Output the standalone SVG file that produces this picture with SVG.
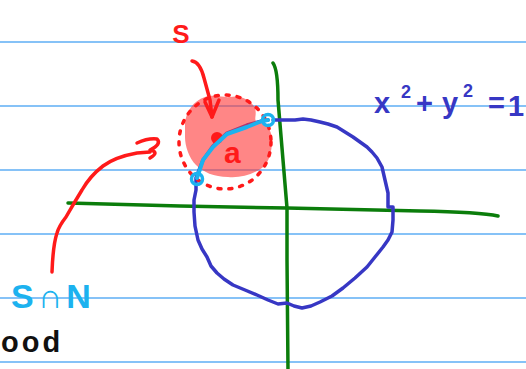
<svg xmlns="http://www.w3.org/2000/svg" width="526" height="369" viewBox="0 0 526 369">
<style>
.rule{stroke:#5eaef5;stroke-width:1.6}
.green{fill:none;stroke:#0b7d0b;stroke-width:3.5;stroke-linecap:round;stroke-linejoin:round}
.circ{fill:none;stroke:#3737c4;stroke-width:3.5;stroke-linecap:round;stroke-linejoin:round}
.red{fill:none;stroke:#ff1a1a;stroke-width:3.5;stroke-linecap:round;stroke-linejoin:round}
.cyan{fill:none;stroke:#1cb2ef;stroke-width:4;stroke-linecap:round;stroke-linejoin:round}
.hand{font-family:"Liberation Sans","DejaVu Sans",sans-serif;font-weight:bold}
</style>
<rect width="526" height="369" fill="#ffffff"/>
<g id="rules">
<line class="rule" x1="0" y1="42" x2="526" y2="42"/>
<line class="rule" x1="0" y1="106" x2="526" y2="106"/>
<line class="rule" x1="0" y1="170" x2="526" y2="170"/>
<line class="rule" x1="0" y1="234" x2="526" y2="234"/>
<line class="rule" x1="0" y1="298" x2="526" y2="298"/>
<line class="rule" x1="0" y1="362" x2="526" y2="362"/>
</g>
<g id="axes">
<path class="green" d="M68,203 L180,206 L287,208 L420,211 Q480,212 498,216"/>
<path class="green" d="M273,63 Q278,70 278,100 L283,160 L287,208 L287,260 L288,369"/>
</g>
<g id="unit-circle">
<path class="circ" d="M268,120 L262,121 L247,125 L227,133 L213,146 L203,160 L196,178 L196,190 L194,200 L194,212 L195,226 L198,240 L202,249 L207,257 L211,266 L217,273 L224,279 L233,285 L245,290 L257,295 L268,300 L278,304 L287,303 L294,306 L302,308 L311,306 L320,302 L332,296 L343,288 L355,278 L367,267 L375,257 L383,247 L388,240 L392,232 L393,220 L393,207 L388,207 L388,193 L385,180 L382,167 L377,158 L372,152 L367,147 L360,142 L353,137 L345,132 L337,127 L328,124 L320,122 L311,120 L303,119 L295,120 L287,120 L273,120"/>
</g>
<g id="set-S">
<path fill="#ff3535" fill-opacity="0.6" d="M185,123 C186,112 193,101 205,97 C215,94 224,98 230,97 C240,95 250,99 255,108 C257,114 254,119 256,121 C266,122 272,130 272,140 C272,152 269,163 262,168 C252,175 240,178 228,177 C214,177 203,172 196,165 C189,158 185,146 185,137 Z"/>
<ellipse cx="225" cy="142" rx="46" ry="47" fill="none" stroke="#ff1a1a" stroke-width="3.5" stroke-linecap="round" stroke-dasharray="3 8"/>
<ellipse cx="217" cy="138" rx="6" ry="6" fill="#ff1a1a"/>
<text class="hand" x="224" y="163" font-size="30" fill="#ff1a1a">a</text>
</g>
<g id="intersection">
<path class="cyan" d="M197,178 L203,160 L213,147 L227,134 L247,127 L262,121 L268,120"/>
<circle cx="197" cy="179" r="5.5" fill="none" stroke="#1cb2ef" stroke-width="3.5"/>
<circle cx="268" cy="120" r="5.5" fill="none" stroke="#1cb2ef" stroke-width="3.5"/>
</g>
<g id="pointers">
<path class="red" d="M192,61 Q200,62 204,78 L210,100 L212,117"/>
<path class="red" d="M205,102 L212,117 L219,100"/>
<path class="red" d="M52,272 Q53,245 57,233 Q59,226 66,217 Q74,203 82,190 Q90,176 103,166 Q115,157 137,153 L150,152"/>
<path class="red" d="M137,143 Q148,138 157,139 Q162,144 150,150 Q160,152 150,158"/>
</g>
<g id="labels">
<text class="hand" x="181" y="43" font-size="26" fill="#ff1a1a" text-anchor="middle">S</text>
<text class="hand" x="11" y="308" font-size="34" fill="#1cb2ef" letter-spacing="4">S∩N</text>
<text class="hand" x="1" y="352" font-size="29" fill="#111111" letter-spacing="3">ood</text>
<text class="hand" font-size="29" fill="#3737c4"><tspan x="374" y="113">x</tspan><tspan x="401" y="98" font-size="18">2</tspan><tspan x="416" y="113">+</tspan><tspan x="442" y="113">y</tspan><tspan x="463" y="97" font-size="18">2</tspan><tspan x="488" y="113">=</tspan><tspan x="508" y="116">1</tspan></text>
</g>
</svg>
